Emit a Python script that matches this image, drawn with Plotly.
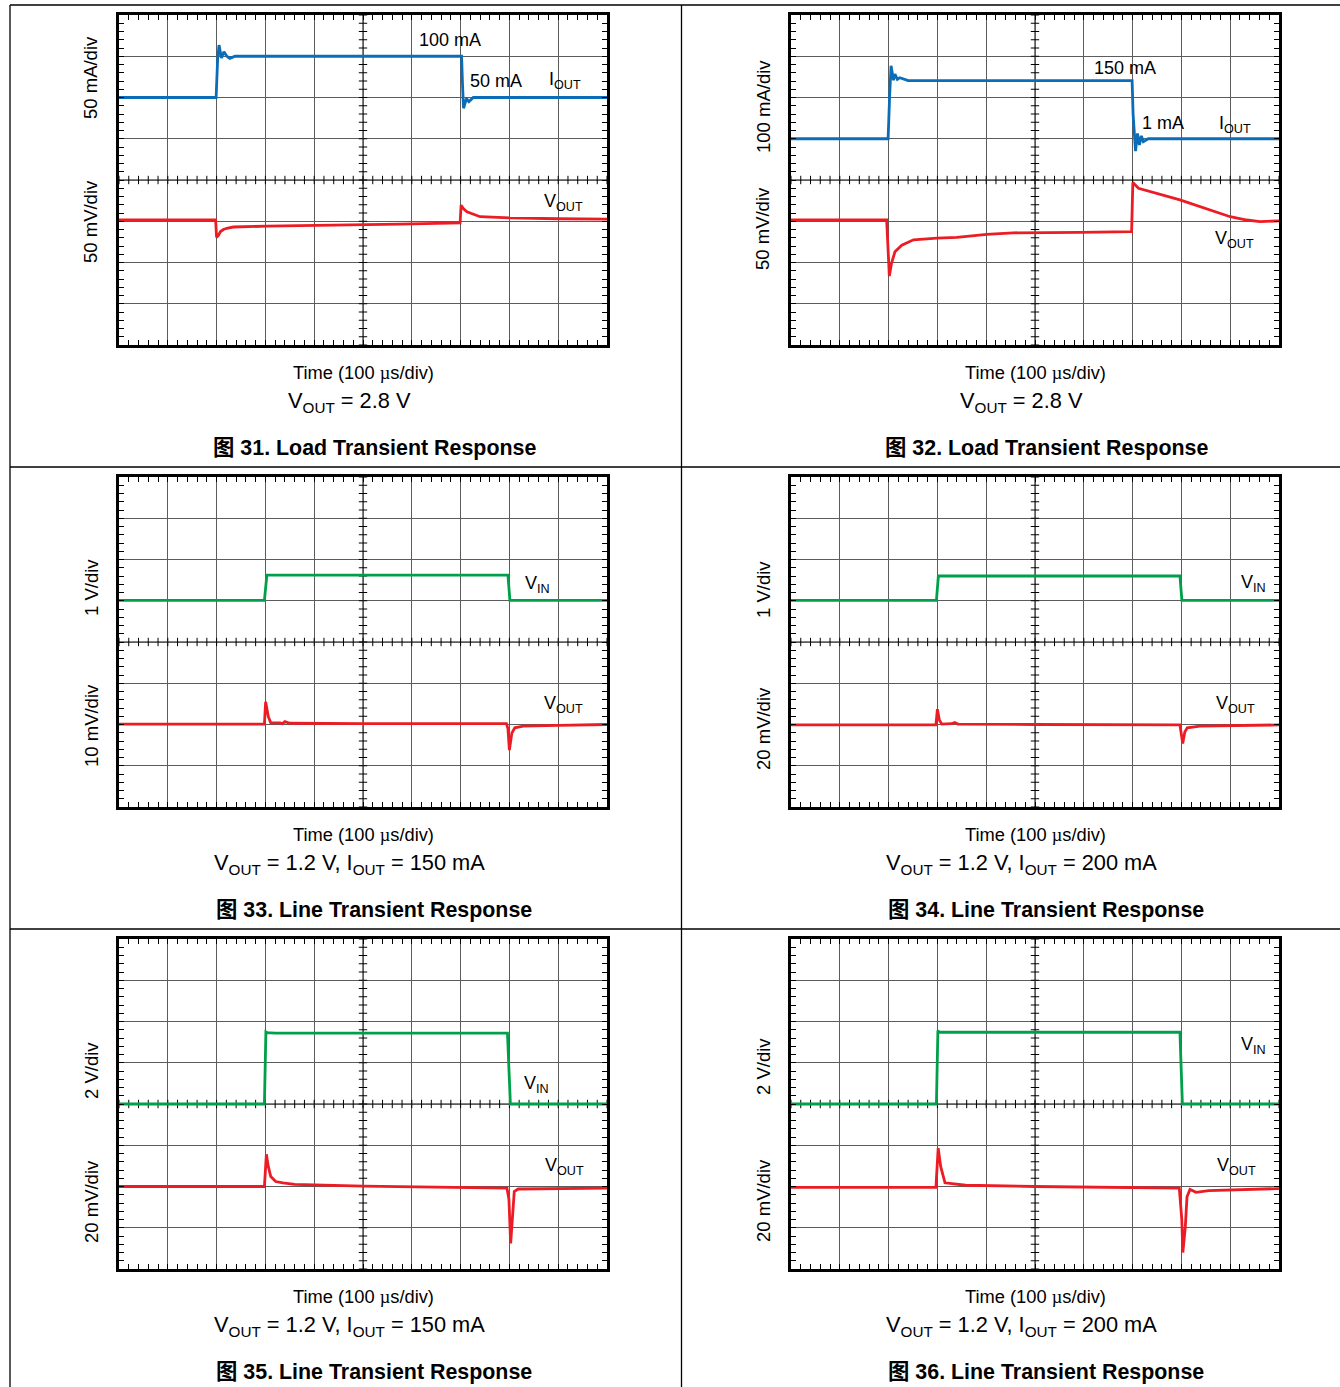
import numpy as np
import plotly.graph_objects as go

W, H = 1340, 1387

# ---------------- data (time in µs, amplitude in screen divisions) ----------------
# Fig 31 – Load transient, VOUT = 2.8 V
f31_iout_t = [0, 199, 202, 204, 205, 210, 215, 221, 227, 238, 702, 704, 706, 712, 717, 726, 1000]
f31_iout_v = [6.0, 6.0, 6.9, 7.1, 7.27, 6.96, 7.11, 7.0, 6.95, 7.0, 7.0, 6.3, 5.74, 5.97, 5.90, 6.0, 6.0]
f31_vout_t = [0, 198, 200, 204, 208, 214, 221, 234, 303, 439, 576, 699, 701, 706, 713, 740, 801, 900, 1000]
f31_vout_v = [3.03, 3.03, 2.61, 2.66, 2.75, 2.80, 2.83, 2.86, 2.88, 2.90, 2.93, 2.96, 3.39, 3.30, 3.23, 3.11, 3.08, 3.06, 3.05]

# Fig 32 – Load transient, VOUT = 2.8 V
f32_iout_t = [0, 199, 202, 205, 210, 213, 218, 223, 240, 699, 701, 706, 710, 714, 718, 722, 732, 1000]
f32_iout_v = [5.0, 5.0, 6.0, 6.77, 6.42, 6.57, 6.44, 6.48, 6.41, 6.41, 5.6, 4.70, 5.13, 4.85, 5.07, 4.93, 5.0, 5.0]
f32_vout_t = [0, 196, 199, 201.5, 206, 213, 227, 251, 299, 340, 401, 455, 592, 698, 700.5, 705, 712, 797, 900, 934, 961, 1000]
f32_vout_v = [3.03, 3.03, 2.3, 1.67, 1.98, 2.26, 2.42, 2.55, 2.59, 2.61, 2.68, 2.72, 2.73, 2.75, 3.94, 3.88, 3.80, 3.52, 3.11, 3.03, 2.99, 3.01]

# Fig 33 – Line transient, VOUT = 1.2 V, IOUT = 150 mA
f33_vin_t = [0, 298, 303, 797, 801, 1000]
f33_vin_v = [5.01, 5.01, 5.62, 5.62, 5.01, 5.01]
f33_vout_t = [0, 298, 300.5, 306, 311, 330, 335, 340, 350, 500, 794, 797, 800, 805, 811, 828, 900, 1000]
f33_vout_v = [2.01, 2.01, 2.55, 2.19, 2.04, 2.04, 2.02, 2.07, 2.03, 2.02, 2.02, 1.9, 1.38, 1.79, 1.92, 1.96, 1.98, 2.0]

# Fig 34 – Line transient, VOUT = 1.2 V, IOUT = 200 mA
f34_vin_t = [0, 298, 302, 797, 801, 1000]
f34_vin_v = [5.01, 5.01, 5.6, 5.6, 5.01, 5.01]
f34_vout_t = [0, 297, 300, 304, 309, 329, 335.5, 342, 500, 797, 802.7, 807, 812, 838, 1000]
f34_vout_v = [1.99, 1.99, 2.37, 2.11, 2.01, 2.02, 2.05, 2.01, 2.0, 1.99, 1.54, 1.82, 1.92, 1.96, 1.99]

# Fig 35 – Line transient, VOUT = 1.2 V, IOUT = 150 mA
f35_vin_t = [0, 298, 301, 304, 320, 796, 802, 1000]
f35_vin_v = [4.0, 4.0, 5.75, 5.73, 5.72, 5.72, 4.0, 4.0]
f35_vout_t = [0, 298, 302, 306, 311, 321, 336, 345, 360, 500, 700, 795, 799, 802.6, 806.4, 810, 818, 868, 1000]
f35_vout_v = [2.0, 2.0, 2.78, 2.48, 2.24, 2.12, 2.09, 2.08, 2.05, 2.01, 1.97, 1.96, 1.7, 0.62, 1.27, 1.88, 1.94, 1.95, 1.96]

# Fig 36 – Line transient, VOUT = 1.2 V, IOUT = 200 mA
f36_vin_t = [0, 298, 301, 304, 320, 797, 802, 1000]
f36_vin_v = [4.0, 4.0, 5.78, 5.74, 5.74, 5.74, 4.0, 4.0]
f36_vout_t = [0, 297, 301.6, 306.8, 315.6, 336, 358, 500, 709, 795.7, 800.8, 803, 808, 811.5, 817.6, 830, 856, 1000]
f36_vout_v = [1.98, 1.98, 2.93, 2.48, 2.09, 2.06, 2.03, 2.0, 1.98, 1.96, 1.2, 0.40, 1.02, 1.75, 1.93, 1.86, 1.90, 1.95]

# scale labels
scale_top = ["50 mA/div", "100 mA/div", "1 V/div", "1 V/div", "2 V/div", "2 V/div"]
scale_bot = ["50 mV/div", "50 mV/div", "10 mV/div", "20 mV/div", "20 mV/div", "20 mV/div"]
conditions = ["V<sub>OUT</sub> = 2.8 V", "V<sub>OUT</sub> = 2.8 V",
              "V<sub>OUT</sub> = 1.2 V, I<sub>OUT</sub> = 150 mA", "V<sub>OUT</sub> = 1.2 V, I<sub>OUT</sub> = 200 mA",
              "V<sub>OUT</sub> = 1.2 V, I<sub>OUT</sub> = 150 mA", "V<sub>OUT</sub> = 1.2 V, I<sub>OUT</sub> = 200 mA"]
titles = ["图 31. Load Transient Response", "图 32. Load Transient Response",
          "图 33. Line Transient Response", "图 34. Line Transient Response",
          "图 35. Line Transient Response", "图 36. Line Transient Response"]

BLUE, RED, GREEN = "#0B6DB7", "#EC1C24", "#00A04A"
FONT = "Liberation Sans, Arial, Noto Sans CJK SC, sans-serif"

# ---------------- layout geometry (pixels) ----------------
cols = [(119, 607), (791, 1279)]
rows = [(15, 345), (477, 807), (939, 1269)]

series = [
    [(f31_iout_t, f31_iout_v, BLUE), (f31_vout_t, f31_vout_v, RED)],
    [(f32_iout_t, f32_iout_v, BLUE), (f32_vout_t, f32_vout_v, RED)],
    [(f33_vin_t, f33_vin_v, GREEN), (f33_vout_t, f33_vout_v, RED)],
    [(f34_vin_t, f34_vin_v, GREEN), (f34_vout_t, f34_vout_v, RED)],
    [(f35_vin_t, f35_vin_v, GREEN), (f35_vout_t, f35_vout_v, RED)],
    [(f36_vin_t, f36_vin_v, GREEN), (f36_vout_t, f36_vout_v, RED)],
]

# in-plot labels (pixel positions)
inplot = [
    [("100 mA", 450, 40), ("50 mA", 496, 81), ("I<sub>OUT</sub>", 565, 81), ("V<sub>OUT</sub>", 563, 202)],
    [("150 mA", 1125, 68), ("1 mA", 1163, 123), ("I<sub>OUT</sub>", 1235, 124), ("V<sub>OUT</sub>", 1234, 239)],
    [("V<sub>IN</sub>", 537, 585), ("V<sub>OUT</sub>", 563, 704)],
    [("V<sub>IN</sub>", 1253, 583), ("V<sub>OUT</sub>", 1235, 704)],
    [("V<sub>IN</sub>", 536, 1084), ("V<sub>OUT</sub>", 564, 1166)],
    [("V<sub>IN</sub>", 1253, 1045), ("V<sub>OUT</sub>", 1236, 1166)],
]
ylab_y = [(77, 221), (107, 229), (587, 725), (590, 729), (1070, 1201), (1067, 1201)]

fig = go.Figure()
annotations = []
shapes = []


def px(x):
    return x / W


def py(y):
    return 1 - y / H


center_t = np.arange(0, 1000.1, 20)
center_y = np.arange(0, 8.01, 0.2)

for i in range(6):
    n = i + 1
    r, c = divmod(i, 2)
    x0, x1 = cols[c]
    y0, y1 = rows[r]
    xs = "x" if n == 1 else f"x{n}"
    ys = "y" if n == 1 else f"y{n}"
    xa = "xaxis" if n == 1 else f"xaxis{n}"
    ya = "yaxis" if n == 1 else f"yaxis{n}"
    common = dict(showline=True, mirror="allticks", linecolor="black", linewidth=2.5,
                  ticks="inside", ticklen=5, tickwidth=1, tickcolor="black",
                  showticklabels=False, showgrid=True, gridcolor="#5c5c5c", gridwidth=1,
                  zeroline=False, fixedrange=True, layer="above traces")
    fig.update_layout({
        xa: dict(domain=[px(x0), px(x1)], range=[0, 1000], anchor=ys, tick0=0, dtick=100,
                 minor=dict(tick0=0, dtick=20, ticks="inside", ticklen=5, tickwidth=1,
                            tickcolor="black", showgrid=False), **common),
        ya: dict(domain=[py(y1), py(y0)], range=[0, 8], anchor=xs, tick0=0, dtick=1,
                 minor=dict(tick0=0, dtick=0.2, ticks="inside", ticklen=5, tickwidth=1,
                            tickcolor="black", showgrid=False), **common),
    })
    # centre graticule ticks
    fig.add_trace(go.Scatter(x=center_t, y=[4] * len(center_t), xaxis=xs, yaxis=ys, mode="markers",
                             marker=dict(symbol="line-ns", size=6, line=dict(width=1, color="black")),
                             hoverinfo="skip", showlegend=False))
    fig.add_trace(go.Scatter(x=[500] * len(center_y), y=center_y, xaxis=xs, yaxis=ys, mode="markers",
                             marker=dict(symbol="line-ew", size=6, line=dict(width=1, color="black")),
                             hoverinfo="skip", showlegend=False))
    # centre lines slightly darker
    shapes.append(dict(type="line", xref=xs, yref=ys, x0=0, x1=1000, y0=4, y1=4,
                       line=dict(color="black", width=1), layer="below"))
    shapes.append(dict(type="line", xref=xs, yref=ys, x0=500, x1=500, y0=0, y1=8,
                       line=dict(color="black", width=1), layer="below"))
    for t, v, col in series[i]:
        fig.add_trace(go.Scatter(x=t, y=v, xaxis=xs, yaxis=ys, mode="lines",
                                 line=dict(color=col, width=2.8), hoverinfo="skip", showlegend=False))
    # labels inside plot
    for txt, lx, ly in inplot[i]:
        annotations.append(dict(text=txt, x=px(lx), y=py(ly), xref="paper", yref="paper",
                                showarrow=False, xanchor="center", yanchor="middle",
                                font=dict(family=FONT, size=18, color="black")))
    # y scale labels
    lx = 91 if c == 0 else 763
    for txt, ly in zip((scale_top[i], scale_bot[i]), ylab_y[i]):
        annotations.append(dict(text=txt, x=px(lx), y=py(ly), xref="paper", yref="paper",
                                showarrow=False, textangle=-90, xanchor="center", yanchor="middle",
                                font=dict(family=FONT, size=18.5, color="black")))
    cx = (x0 + x1) / 2
    base = y1
    annotations.append(dict(text="Time (100 <span style='font-family:Liberation Serif'>µ</span>s/div)",
                            x=px(cx), y=py(base + 27), xref="paper", yref="paper", showarrow=False,
                            xanchor="center", yanchor="middle",
                            font=dict(family=FONT, size=18.3, color="black")))
    annotations.append(dict(text=conditions[i], x=px(cx - 14), y=py(base + 57), xref="paper", yref="paper",
                            showarrow=False, xanchor="center", yanchor="middle",
                            font=dict(family=FONT, size=21.8, color="black")))
    annotations.append(dict(text="<b>" + titles[i] + "</b>", x=px(cx + 11), y=py(base + 103),
                            xref="paper", yref="paper", showarrow=False, xanchor="center",
                            yanchor="middle", font=dict(family=FONT, size=21.4, color="black")))

# table borders
def pline(xa0, ya0, xa1, ya1):
    shapes.append(dict(type="line", xref="paper", yref="paper", x0=px(xa0), y0=py(ya0),
                       x1=px(xa1), y1=py(ya1), line=dict(color="black", width=1.3)))

pline(10, 5, 1340, 5)
pline(10, 5, 10, 1387)
pline(681.5, 5, 681.5, 1387)
pline(10, 467, 1340, 467)
pline(10, 929, 1340, 929)

fig.update_layout(width=W, height=H, margin=dict(l=0, r=0, t=0, b=0),
                  paper_bgcolor="white", plot_bgcolor="white", showlegend=False,
                  annotations=annotations, shapes=shapes, font=dict(family=FONT))

fig.write_html("out.html", config={"displayModeBar": False},
               post_script="document.body.style.margin='0';document.body.style.overflow='hidden';")
